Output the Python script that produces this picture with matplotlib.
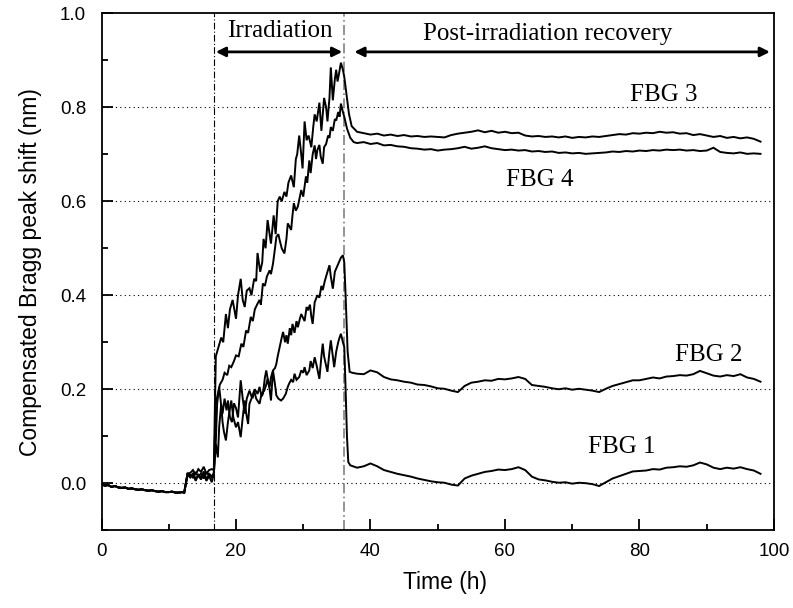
import numpy as np
import matplotlib
matplotlib.use("Agg")
import matplotlib.pyplot as plt
from matplotlib.ticker import MultipleLocator

# shared baseline before irradiation (all four gratings overlap)
t_base = [0.0, 0.5, 1.0, 1.5, 2.0, 2.5, 3.0, 3.5, 4.0, 4.5, 5.0, 5.5, 6.0,
          6.5, 7.0, 7.5, 8.0, 8.5, 9.0, 9.5, 10.0, 10.5, 11.0, 11.5, 12.0, 12.3]
v_base = [-0.003, -0.005, -0.004, -0.008, -0.006, -0.009, -0.010, -0.009,
          -0.012, -0.011, -0.013, -0.014, -0.013, -0.015, -0.016, -0.015,
          -0.017, -0.018, -0.017, -0.019, -0.019, -0.018, -0.020, -0.020,
          -0.019, -0.020]

t_step = [12.8, 13.2, 13.6, 14.0, 14.4, 14.8, 15.2, 15.6, 16.0, 16.4, 16.7]
fbg1_step = [0.020, 0.018, 0.012, 0.022, 0.015, 0.020, 0.010, 0.022, 0.018, 0.012, 0.022]
fbg2_step = [0.022, 0.015, 0.020, 0.005, 0.018, 0.012, 0.025, 0.008, 0.020, 0.015, 0.018]
fbg3_step = [0.020, 0.022, 0.028, 0.018, 0.030, 0.024, 0.035, 0.020, 0.028, 0.030, 0.028]
fbg4_step = [0.018, 0.012, 0.020, 0.010, 0.016, 0.008, 0.020, 0.005, 0.015, 0.002, 0.020]

# irradiation period
fbg1_irr_t = [17.0, 17.3, 17.5, 17.8, 18.0, 18.2, 18.5, 18.8, 19.0, 19.3, 19.6, 20.0,
              20.3, 20.7, 21.0, 21.3, 21.5, 21.8, 22.0, 22.3, 22.7, 23.0, 23.5, 23.8,
              24.2, 24.5, 24.7, 25.0, 25.2, 25.5, 25.8, 26.0, 26.3, 26.7, 27.0, 27.4,
              27.7, 27.9, 28.2, 28.5, 28.7, 29.0, 29.4, 29.7, 30.0, 30.2, 30.5, 30.9,
              31.1, 31.4, 31.7, 32.0, 32.4, 32.7, 32.9, 33.1, 33.4, 33.6, 33.9, 34.1,
              34.4, 34.6, 34.9, 35.2, 35.4, 35.6, 35.9, 36.1, 36.3, 36.5, 36.7, 37.0, 37.4]
fbg1_irr_v = [0.084, 0.055, 0.120, 0.169, 0.130, 0.110, 0.091, 0.130, 0.150, 0.176, 0.140, 0.119,
              0.130, 0.098, 0.140, 0.176, 0.150, 0.126, 0.169, 0.180, 0.197, 0.180, 0.169, 0.190,
              0.197, 0.210, 0.222, 0.200, 0.176, 0.240, 0.210, 0.187, 0.180, 0.176, 0.180, 0.190,
              0.205, 0.212, 0.220, 0.215, 0.233, 0.220, 0.226, 0.240, 0.235, 0.247, 0.230, 0.240,
              0.260, 0.245, 0.268, 0.250, 0.222, 0.270, 0.297, 0.270, 0.250, 0.237, 0.280, 0.304,
              0.270, 0.247, 0.280, 0.300, 0.310, 0.318, 0.300, 0.290, 0.200, 0.100, 0.045, 0.038, 0.036]

fbg2_irr_t = [17.0, 17.2, 17.5, 17.8, 18.0, 18.3, 18.6, 18.8, 19.1, 19.4, 19.7, 20.0,
              20.3, 20.7, 21.0, 21.3, 21.6, 22.0, 22.3, 22.5, 22.8, 23.2, 23.5, 23.8,
              24.0, 24.3, 24.5, 24.8, 25.0, 25.2, 25.5, 25.8, 26.0, 26.2, 26.5, 26.8,
              27.0, 27.3, 27.5, 27.7, 28.0, 28.2, 28.4, 28.7, 29.0, 29.2, 29.5, 29.7,
              29.9, 30.2, 30.5, 30.7, 31.0, 31.2, 31.4, 31.7, 32.1, 32.4, 32.7, 32.9,
              33.2, 33.5, 33.9, 34.1, 34.4, 34.7, 35.0, 35.3, 35.6, 35.9, 36.1, 36.3,
              36.6, 36.9, 37.3]
fbg2_irr_v = [0.090, 0.170, 0.205, 0.165, 0.148, 0.180, 0.155, 0.176, 0.140, 0.130, 0.170, 0.160,
              0.140, 0.219, 0.180, 0.148, 0.180, 0.197, 0.185, 0.183, 0.200, 0.190, 0.205, 0.185,
              0.190, 0.225, 0.240, 0.215, 0.205, 0.225, 0.240, 0.245, 0.254, 0.270, 0.290, 0.310,
              0.322, 0.300, 0.315, 0.297, 0.330, 0.315, 0.339, 0.320, 0.345, 0.332, 0.350, 0.360,
              0.354, 0.345, 0.375, 0.368, 0.380, 0.355, 0.339, 0.385, 0.400, 0.395, 0.420, 0.411,
              0.430, 0.445, 0.464, 0.440, 0.414, 0.450, 0.460, 0.470, 0.480, 0.485, 0.470, 0.400,
              0.280, 0.237, 0.235]

fbg3_irr_t = [17.0, 17.4, 17.8, 18.1, 18.5, 18.8, 19.1, 19.5, 20.0, 20.3, 20.7, 21.0,
              21.3, 21.6, 22.0, 22.3, 22.7, 23.0, 23.2, 23.6, 23.9, 24.1, 24.4, 24.7,
              25.0, 25.2, 25.6, 25.9, 26.2, 26.5, 26.8, 27.2, 27.5, 27.8, 28.2, 28.6,
              28.9, 29.1, 29.4, 29.7, 29.9, 30.2, 30.5, 30.8, 31.2, 31.5, 31.7, 32.0,
              32.4, 32.7, 33.1, 33.4, 33.6, 33.9, 34.1, 34.4, 34.7, 34.9, 35.1, 35.3,
              35.6, 35.9, 36.1, 36.5, 36.8, 37.2]
fbg3_irr_v = [0.270, 0.290, 0.310, 0.300, 0.360, 0.330, 0.370, 0.390, 0.350, 0.400, 0.435, 0.390,
              0.375, 0.410, 0.415, 0.400, 0.435, 0.430, 0.490, 0.450, 0.470, 0.520, 0.500, 0.560,
              0.530, 0.510, 0.570, 0.530, 0.600, 0.610, 0.600, 0.620, 0.610, 0.640, 0.655, 0.630,
              0.690, 0.700, 0.740, 0.700, 0.670, 0.770, 0.730, 0.740, 0.715, 0.760, 0.785, 0.770,
              0.810, 0.750, 0.820, 0.800, 0.770, 0.820, 0.885, 0.815, 0.860, 0.880, 0.855, 0.870,
              0.895, 0.880, 0.865, 0.820, 0.786, 0.760]

fbg4_irr_t = [17.0, 17.3, 17.6, 18.0, 18.3, 18.7, 19.0, 19.3, 19.7, 20.0, 20.4, 20.8,
              21.1, 21.5, 21.8, 22.2, 22.5, 22.8, 23.2, 23.5, 23.7, 24.0, 24.3, 24.6,
              25.0, 25.2, 25.5, 25.8, 26.0, 26.3, 26.5, 26.8, 27.2, 27.5, 27.7, 28.0,
              28.2, 28.4, 28.6, 28.9, 29.2, 29.5, 29.7, 30.0, 30.4, 30.6, 30.9, 31.1,
              31.4, 31.7, 31.9, 32.1, 32.4, 32.6, 32.9, 33.1, 33.4, 33.7, 33.9, 34.1,
              34.4, 34.7, 34.9, 35.2, 35.4, 35.6, 35.9, 36.1, 36.5, 37.0, 37.5]
fbg4_irr_v = [0.170, 0.190, 0.210, 0.220, 0.235, 0.230, 0.250, 0.247, 0.260, 0.272, 0.270, 0.297,
              0.290, 0.325, 0.320, 0.354, 0.345, 0.370, 0.382, 0.390, 0.380, 0.425, 0.420, 0.440,
              0.453, 0.445, 0.467, 0.500, 0.524, 0.530, 0.517, 0.500, 0.489, 0.520, 0.553, 0.545,
              0.539, 0.570, 0.596, 0.580, 0.589, 0.610, 0.624, 0.610, 0.653, 0.640, 0.687, 0.660,
              0.700, 0.719, 0.690, 0.709, 0.720, 0.695, 0.680, 0.715, 0.722, 0.740, 0.735, 0.758,
              0.750, 0.775, 0.772, 0.790, 0.780, 0.808, 0.790, 0.780, 0.755, 0.735, 0.726]

# post-irradiation recovery, hourly readings 38 h .. 98 h
t_post = list(range(38, 99))
fbg1_post = [0.033, 0.036, 0.042, 0.036, 0.028, 0.024, 0.020, 0.017, 0.014, 0.010, 0.007,
             0.004, 0.002, 0.001, -0.003, -0.005, 0.010, 0.016, 0.020, 0.024, 0.026, 0.029,
             0.028, 0.030, 0.034, 0.028, 0.014, 0.008, 0.006, 0.003, 0.001, 0.002, -0.001,
             0.001, 0.000, -0.002, -0.006, 0.002, 0.010, 0.015, 0.020, 0.025, 0.026, 0.027,
             0.030, 0.029, 0.033, 0.034, 0.036, 0.035, 0.038, 0.044, 0.040, 0.033, 0.030,
             0.033, 0.031, 0.034, 0.030, 0.027, 0.020]
fbg2_post = [0.233, 0.232, 0.240, 0.236, 0.226, 0.221, 0.219, 0.216, 0.214, 0.210, 0.209,
             0.206, 0.202, 0.201, 0.197, 0.194, 0.207, 0.214, 0.216, 0.219, 0.218, 0.222,
             0.221, 0.223, 0.226, 0.222, 0.209, 0.207, 0.205, 0.202, 0.200, 0.202, 0.199,
             0.201, 0.199, 0.197, 0.194, 0.201, 0.207, 0.211, 0.215, 0.219, 0.219, 0.222,
             0.225, 0.223, 0.227, 0.228, 0.230, 0.229, 0.232, 0.239, 0.234, 0.229, 0.227,
             0.230, 0.228, 0.232, 0.225, 0.222, 0.216]
fbg3_post = [0.748, 0.745, 0.742, 0.744, 0.740, 0.742, 0.739, 0.741, 0.738, 0.739, 0.737,
             0.738, 0.737, 0.736, 0.741, 0.744, 0.746, 0.748, 0.751, 0.747, 0.750, 0.746,
             0.748, 0.745, 0.746, 0.740, 0.738, 0.739, 0.737, 0.738, 0.736, 0.738, 0.735,
             0.737, 0.736, 0.738, 0.737, 0.739, 0.741, 0.743, 0.742, 0.745, 0.744, 0.746,
             0.745, 0.748, 0.746, 0.747, 0.744, 0.745, 0.741, 0.743, 0.740, 0.737, 0.739,
             0.735, 0.737, 0.734, 0.736, 0.733, 0.727]
fbg4_post = [0.724, 0.726, 0.722, 0.724, 0.719, 0.720, 0.717, 0.716, 0.713, 0.712, 0.710,
             0.711, 0.708, 0.710, 0.711, 0.713, 0.716, 0.712, 0.714, 0.717, 0.713, 0.711,
             0.709, 0.710, 0.708, 0.709, 0.706, 0.707, 0.705, 0.706, 0.703, 0.704, 0.702,
             0.703, 0.701, 0.702, 0.703, 0.704, 0.706, 0.705, 0.707, 0.706, 0.708, 0.707,
             0.709, 0.708, 0.710, 0.709, 0.710, 0.708, 0.709, 0.707, 0.708, 0.714, 0.705,
             0.703, 0.702, 0.704, 0.701, 0.702, 0.701]

series = [
    (fbg1_step, fbg1_irr_t, fbg1_irr_v, fbg1_post),
    (fbg2_step, fbg2_irr_t, fbg2_irr_v, fbg2_post),
    (fbg3_step, fbg3_irr_t, fbg3_irr_v, fbg3_post),
    (fbg4_step, fbg4_irr_t, fbg4_irr_v, fbg4_post),
]

labels = ["FBG 1", "FBG 2", "FBG 3", "FBG 4"]
label_pos = [(77.4, 0.076), (90.3, 0.272), (83.6, 0.826), (65.1, 0.645)]

irr_start, irr_end = 16.8, 36.1

SERIF = ["Liberation Serif", "DejaVu Serif"]
SANS = ["Liberation Sans", "DejaVu Sans"]

fig = plt.figure(figsize=(7.93, 6.08), dpi=100)
ax = fig.add_axes([0.128, 0.128, 0.848, 0.850])

for step, it, iv, post in series:
    t = t_base + t_step + it + t_post
    v = v_base + step + iv + post
    ax.plot(t, v, color="black", lw=1.4, solid_joinstyle="miter")

for y in [0.0, 0.2, 0.4, 0.6, 0.8]:
    ax.axhline(y, color="black", lw=0.8, ls=(0, (1, 3)), zorder=0)

ax.axvline(irr_start, color="black", lw=0.8, ls=(0, (6, 2, 1, 2)), zorder=1)
ax.axvline(irr_end, color="#808080", lw=1.2, ls=(0, (6, 2, 1, 2)), zorder=1)

arrow = dict(arrowstyle="<|-|>", color="black", lw=2.0, mutation_scale=14,
             shrinkA=0, shrinkB=0)
ax.annotate("", xy=(17.0, 0.918), xytext=(35.8, 0.918), arrowprops=arrow)
ax.annotate("", xy=(37.6, 0.918), xytext=(99.4, 0.918), arrowprops=arrow)
ax.text(26.5, 0.963, "Irradiation", family=SERIF, fontsize=18,
        ha="center", va="center")
ax.text(66.3, 0.957, "Post-irradiation recovery", family=SERIF, fontsize=18,
        ha="center", va="center")

for lab, (x, y) in zip(labels, label_pos):
    ax.text(x, y, lab, family=SERIF, fontsize=18, ha="center", va="center")

ax.set_xlim(0, 100)
ax.set_ylim(-0.1, 1.0)
ax.xaxis.set_major_locator(MultipleLocator(20))
ax.xaxis.set_minor_locator(MultipleLocator(10))
ax.yaxis.set_major_locator(MultipleLocator(0.2))
ax.yaxis.set_minor_locator(MultipleLocator(0.1))
ax.tick_params(which="both", direction="in", top=False, right=False, width=1.3)
ax.tick_params(which="major", length=8, labelsize=13.5)
ax.tick_params(axis="y", which="major", pad=11)
ax.tick_params(axis="x", which="major", pad=9)
ax.tick_params(which="minor", length=4)
ax.set_yticks([0.0, 0.2, 0.4, 0.6, 0.8, 1.0])
ax.set_yticklabels(["0.0", "0.2", "0.4", "0.6", "0.8", "1.0"])
for lab in ax.get_xticklabels() + ax.get_yticklabels():
    lab.set_family(SANS)
for s in ax.spines.values():
    s.set_linewidth(1.3)

ax.set_xlabel("Time (h)", family=SANS, fontsize=16.5, labelpad=8, x=0.511)
ax.set_ylabel("Compensated Bragg peak shift (nm)", family=SANS, fontsize=16.5,
              labelpad=13)

fig.savefig("out.png", dpi=100)
